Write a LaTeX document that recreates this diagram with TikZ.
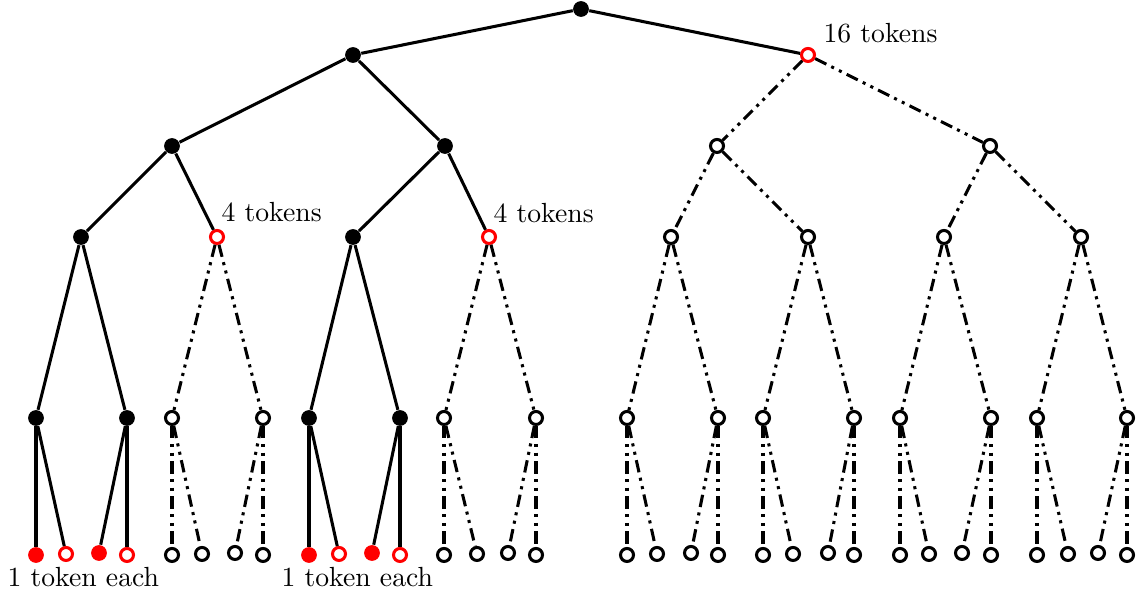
\documentclass[tikz,border=0pt]{standalone}
\usepackage{amsmath}
\usepackage{amsfonts}
\usepackage{tikz}

\begin{document}
\begin{tikzpicture}[x=0.0127cm, y=-0.0127cm,
        blk/.style={circle, fill=black, inner sep=0pt, minimum size=0.2cm},
        hol/.style={circle, draw=black, line width=1.1pt, inner sep=0pt, minimum size=0.165cm},
        redblk/.style={blk, fill=red},
        redhol/.style={hol, draw=red},
        live/.style={line width=1.1pt},
        dead/.style={line width=1.1pt, dash pattern=on 4.5pt off 2pt on 1.1pt off 2pt on 1.1pt off 2pt},
        tok/.style={inner sep=0pt, anchor=base west}]
            \useasboundingbox (0,0) rectangle (1141,597);
            % upper levels
            \node[blk] (r) at (581,9) {};
            \node[blk] (a1) at (353,55) {}; \node[redhol] (a2) at (808,55) {};
            \node[blk] (b1) at (172,146) {}; \node[blk] (b2) at (445,146) {};
            \node[hol] (b3) at (717,146) {}; \node[hol] (b4) at (990,146) {};
            \node[blk] (c1) at (81,237) {}; \node[redhol] (c2) at (217,237) {};
            \node[blk] (c3) at (353,237) {}; \node[redhol] (c4) at (489,237) {};
            \node[hol] (c5) at (671,237) {}; \node[hol] (c6) at (808,237) {};
            \node[hol] (c7) at (944,237) {}; \node[hol] (c8) at (1081,237) {};
            % level 4
            \node[blk] (d1) at (36,418) {}; \node[blk] (d2) at (127,418) {};
            \node[hol] (d3) at (172,418) {}; \node[hol] (d4) at (263,418) {};
            \node[blk] (d5) at (309,418) {}; \node[blk] (d6) at (400,418) {};
            \node[hol] (d7) at (444,418) {}; \node[hol] (d8) at (536,418) {};
            \node[hol] (d9) at (627,418) {}; \node[hol] (d10) at (718,418) {};
            \node[hol] (d11) at (763,418) {}; \node[hol] (d12) at (854,418) {};
            \node[hol] (d13) at (900,418) {}; \node[hol] (d14) at (991,418) {};
            \node[hol] (d15) at (1037,418) {}; \node[hol] (d16) at (1127,418) {};
            % leaves
            \node[redblk] (e1) at (36,555) {}; \node[redhol] (e2) at (66,554) {};
            \node[redblk] (e3) at (99,553) {}; \node[redhol] (e4) at (127,555) {};
            \node[hol] (e5) at (172,555) {}; \node[hol] (e6) at (202,554) {};
            \node[hol] (e7) at (235,553) {}; \node[hol] (e8) at (263,555) {};
            \node[redblk] (e9) at (309,555) {}; \node[redhol] (e10) at (339,554) {};
            \node[redblk] (e11) at (372,553) {}; \node[redhol] (e12) at (400,555) {};
            \node[hol] (e13) at (444,555) {}; \node[hol] (e14) at (477,554) {};
            \node[hol] (e15) at (508,553) {}; \node[hol] (e16) at (536,555) {};
            \node[hol] (e17) at (627,555) {}; \node[hol] (e18) at (657,554) {};
            \node[hol] (e19) at (691,553) {}; \node[hol] (e20) at (718,555) {};
            \node[hol] (e21) at (763,555) {}; \node[hol] (e22) at (793,554) {};
            \node[hol] (e23) at (828,553) {}; \node[hol] (e24) at (854,555) {};
            \node[hol] (e25) at (900,555) {}; \node[hol] (e26) at (929,554) {};
            \node[hol] (e27) at (962,553) {}; \node[hol] (e28) at (991,555) {};
            \node[hol] (e29) at (1037,555) {}; \node[hol] (e30) at (1068,554) {};
            \node[hol] (e31) at (1098,553) {}; \node[hol] (e32) at (1127,555) {};
            % spent branches
            \draw[live] (r) -- (a1); \draw[live] (r) -- (a2);
            \draw[live] (a1) -- (b1); \draw[live] (a1) -- (b2);
            \draw[live] (b1) -- (c1); \draw[live] (b1) -- (c2);
            \draw[live] (b2) -- (c3); \draw[live] (b2) -- (c4);
            \draw[live] (c1) -- (d1); \draw[live] (c1) -- (d2);
            \draw[live] (c3) -- (d5); \draw[live] (c3) -- (d6);
            \draw[live] (d1) -- (e1); \draw[live] (d1) -- (e2);
            \draw[live] (d2) -- (e3); \draw[live] (d2) -- (e4);
            \draw[live] (d5) -- (e9); \draw[live] (d5) -- (e10);
            \draw[live] (d6) -- (e11); \draw[live] (d6) -- (e12);
            % untouched branches
            \draw[dead] (a2) -- (b3); \draw[dead] (a2) -- (b4);
            \draw[dead] (b3) -- (c5); \draw[dead] (b3) -- (c6);
            \draw[dead] (b4) -- (c7); \draw[dead] (b4) -- (c8);
            \draw[dead] (c2) -- (d3); \draw[dead] (c2) -- (d4);
            \draw[dead] (c4) -- (d7); \draw[dead] (c4) -- (d8);
            \draw[dead] (c5) -- (d9); \draw[dead] (c5) -- (d10);
            \draw[dead] (c6) -- (d11); \draw[dead] (c6) -- (d12);
            \draw[dead] (c7) -- (d13); \draw[dead] (c7) -- (d14);
            \draw[dead] (c8) -- (d15); \draw[dead] (c8) -- (d16);
            \draw[dead] (d3) -- (e5); \draw[dead] (d3) -- (e6);
            \draw[dead] (d4) -- (e7); \draw[dead] (d4) -- (e8);
            \draw[dead] (d7) -- (e13); \draw[dead] (d7) -- (e14);
            \draw[dead] (d8) -- (e15); \draw[dead] (d8) -- (e16);
            \draw[dead] (d9) -- (e17); \draw[dead] (d9) -- (e18);
            \draw[dead] (d10) -- (e19); \draw[dead] (d10) -- (e20);
            \draw[dead] (d11) -- (e21); \draw[dead] (d11) -- (e22);
            \draw[dead] (d12) -- (e23); \draw[dead] (d12) -- (e24);
            \draw[dead] (d13) -- (e25); \draw[dead] (d13) -- (e26);
            \draw[dead] (d14) -- (e27); \draw[dead] (d14) -- (e28);
            \draw[dead] (d15) -- (e29); \draw[dead] (d15) -- (e30);
            \draw[dead] (d16) -- (e31); \draw[dead] (d16) -- (e32);
            % token counts
            \node[tok] (lab16) at (823,43) {16 tokens};
            \node[tok] (lab4a) at (221,222) {4 tokens};
            \node[tok] (lab4b) at (493,223) {4 tokens};
            \node[tok] (lab1a) at (7,587) {1 token each};
            \node[tok] (lab1b) at (281,587) {1 token each};
        \end{tikzpicture}
\end{document}
